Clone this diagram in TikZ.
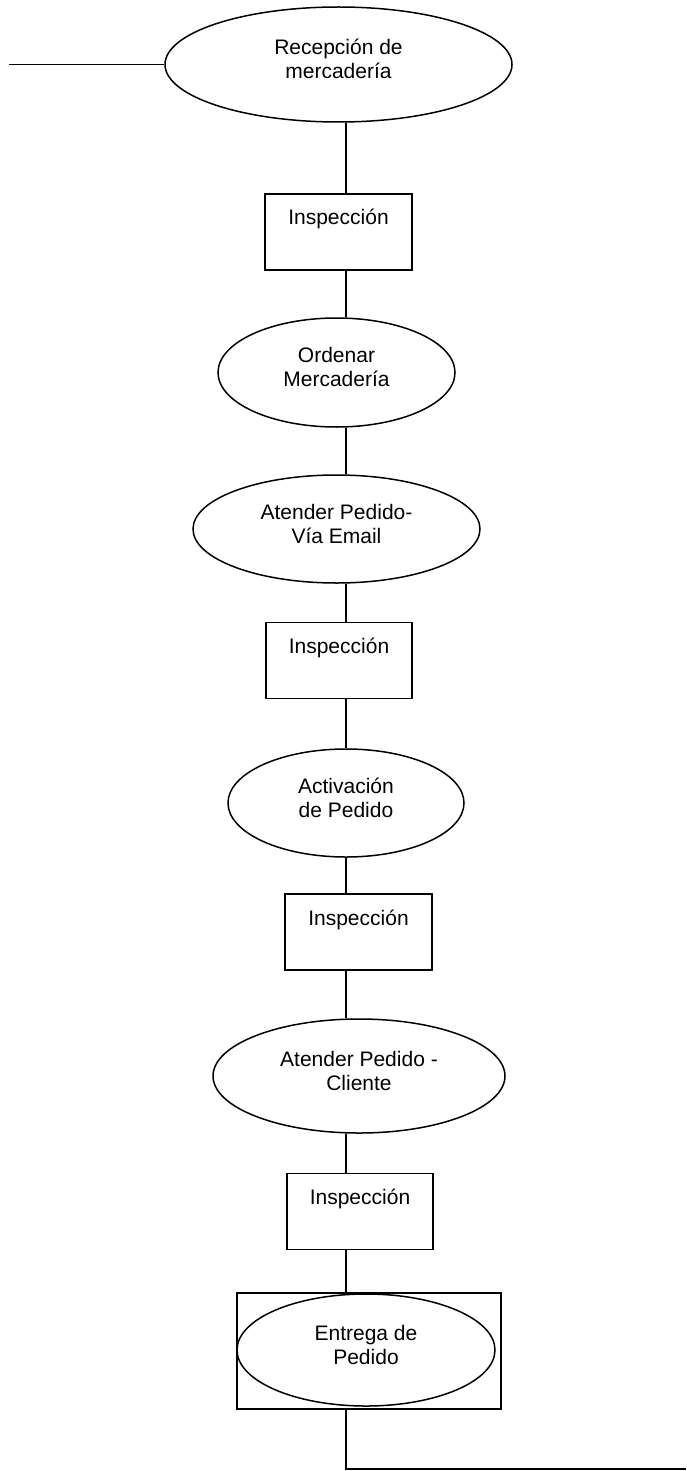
\documentclass[tikz,border=0pt]{standalone}
\usepackage{fontspec}
\setmainfont{Liberation Sans}
\usetikzlibrary{shapes.geometric}
\begin{document}
\begin{tikzpicture}[x=1pt,y=-1pt,
  every node/.style={font=\fontsize{21}{24}\selectfont},
  proc/.style={draw, ellipse, line width=1.5pt, inner sep=0pt, align=center,
               text height=34pt, text depth=6pt},
  check/.style={draw, rectangle, line width=1.5pt, inner sep=0pt,
                text height=31pt, text depth=45pt},
  frame/.style={draw, rectangle, line width=1.5pt, inner sep=0pt},
  link/.style={line width=1.5pt}]
\useasboundingbox (0,0) rectangle (686,1471);

% spine of the flow and the two free ends
\coordinate (spine) at (346,0);
\coordinate (start) at (9,64.5);
\coordinate (finish) at (686,1469);

% process steps and inspections
\node[proc, minimum width=347pt, minimum height=115pt] (e1) at (338.5,64.5) {Recepción de\\mercadería};
\node[check, minimum width=147pt] (r1) at (338.5,232) {Inspección};
\node[proc, minimum width=237pt, minimum height=109pt] (e2) at (336.5,372.5) {Ordenar\\Mercadería};
\node[proc, minimum width=287pt, minimum height=108pt] (e3) at (336.5,529) {Atender Pedido-\\Vía Email};
\node[check, minimum width=146pt] (r2) at (339,660.5) {Inspección};
\node[proc, minimum width=236pt, minimum height=108pt] (e4) at (346,803) {Activación\\de Pedido};
\node[check, minimum width=147pt] (r3) at (358.5,932) {Inspección};
\node[proc, minimum width=292pt, minimum height=114pt] (e5) at (359,1076) {Atender Pedido -\\Cliente};
\node[check, minimum width=146pt] (r4) at (360,1211.5) {Inspección};
\node[frame, minimum width=264pt, minimum height=116pt] (box) at (369,1351) {};
\node[proc, minimum width=258pt, minimum height=112pt] (e6) at (366,1350) {Entrega de\\Pedido};

% connectors
\draw[link] (start) -- (e1.west);
\draw[link] (spine |- e1.south) -- (spine |- r1.north);
\draw[link] (spine |- r1.south) -- (spine |- e2.north);
\draw[link] (spine |- e2.south) -- (spine |- e3.north);
\draw[link] (spine |- e3.south) -- (spine |- r2.north);
\draw[link] (spine |- r2.south) -- (spine |- e4.north);
\draw[link] (spine |- e4.south) -- (spine |- r3.north);
\draw[link] (spine |- r3.south) -- (spine |- e5.north);
\draw[link] (spine |- e5.south) -- (spine |- r4.north);
\draw[link] (spine |- r4.south) -- (spine |- box.north);
\draw[link] (spine |- box.south) |- (finish);
\end{tikzpicture}
\end{document}
